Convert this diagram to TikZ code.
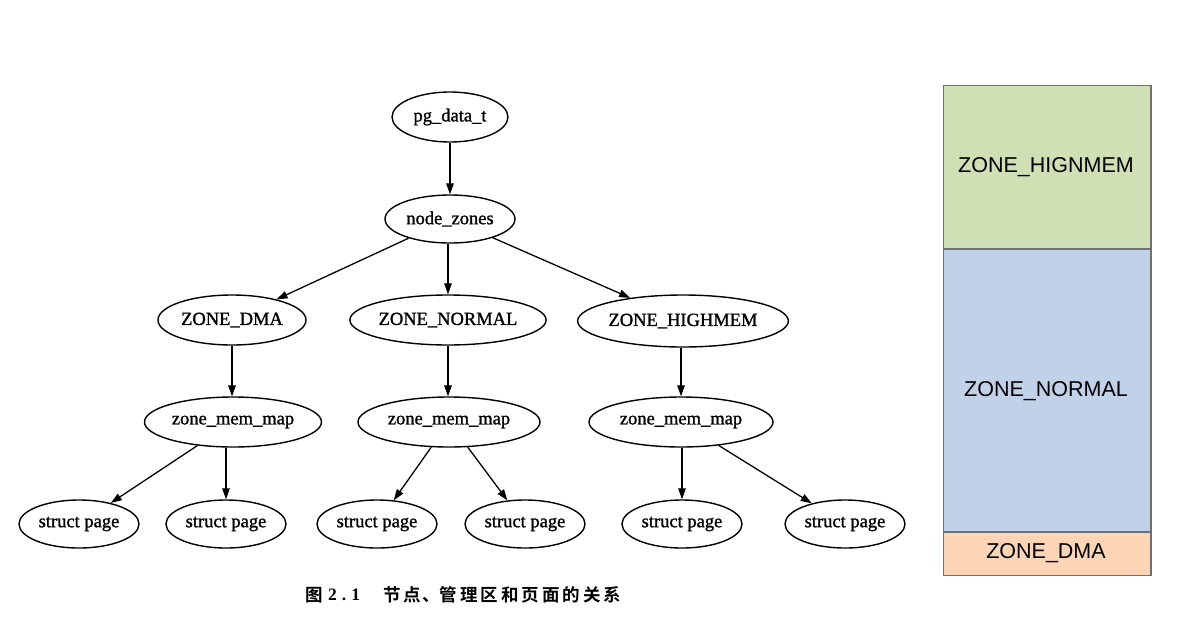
\documentclass[tikz,border=0pt]{standalone}
\usepackage{fontspec}
\setmainfont{Liberation Serif}
\newfontfamily\treefont{Liberation Serif}[FakeBold=1.2]
\newfontfamily\arialfont{Liberation Sans}
\newfontfamily\cjkfont{Noto Sans CJK SC}[BoldFont={* Bold}]
\usetikzlibrary{shapes.geometric,arrows.meta}
\definecolor{hgreen}{RGB}{209,223,181}
\definecolor{nblue}{RGB}{193,209,231}
\definecolor{dorange}{RGB}{251,213,181}
\definecolor{zstroke}{RGB}{112,112,112}
\tikzset{
  tnode/.style={ellipse, draw=black, line width=1.4pt, inner sep=0pt,
    font=\treefont\fontsize{18.5}{21}\selectfont, text=black},
  spage/.style={tnode, minimum width=120pt, minimum height=48pt},
  mmap/.style={tnode, minimum width=182pt, minimum height=50pt},
  arr/.style={-{Triangle[length=11pt,width=7.5pt]}, line width=1.3pt, black},
  zbox/.style={draw=zstroke, line width=1.3pt},
  zlabel/.style={font=\arialfont\fontsize{21.5}{25}\selectfont, text=black},
  capt/.style={font=\cjkfont\bfseries\fontsize{17.5}{20}\selectfont, inner sep=0pt}
}
\begin{document}
\begin{tikzpicture}[x=1pt,y=-1pt]
\useasboundingbox (0,0) rectangle (1187,625);
% tree
\node[tnode, minimum width=116pt, minimum height=50pt] (pg) at (450,117) {pg\_data\_t};
\node[tnode, minimum width=130pt, minimum height=48pt] (nz) at (450,219) {node\_zones};
\node[tnode, minimum width=148pt, minimum height=50pt] (zd) at (232,320) {ZONE\_DMA};
\node[tnode, minimum width=194pt, minimum height=50pt] (zn) at (448,320) {ZONE\_NORMAL};
\node[tnode, minimum width=202pt, minimum height=52pt] (zh) at (683,321) {ZONE\_HIGHMEM};
\node[mmap, minimum width=177pt] (m1) at (233,422) {zone\_mem\_map};
\node[mmap] (m2) at (449,422) {zone\_mem\_map};
\node[mmap, minimum width=184pt] (m3) at (681,422) {zone\_mem\_map};
\node[spage] (s1) at (79,524) {struct page};
\node[spage] (s2) at (226,524) {struct page};
\node[spage] (s3) at (377,524) {struct page};
\node[spage] (s4) at (525,524) {struct page};
\node[spage] (s5) at (682,524) {struct page};
\node[spage] (s6) at (845,524) {struct page};
\draw[arr] (pg) -- (nz);
\draw[arr] (nz) -- (zd);
\draw[arr] (nz.south -| zn) -- (zn);
\draw[arr] (nz) -- (zh);
\draw[arr] (zd) -- (zd |- m1.north);
\draw[arr] (zn) -- (zn |- m2.north);
\draw[arr] (zh.south -| m3) -- (m3);
\draw[arr] (m1) -- (s1);
\draw[arr] (m1.south -| s2) -- (s2);
\draw[arr] (m2) -- (s3);
\draw[arr] (m2) -- (s4);
\draw[arr] (m3.south -| s5) -- (s5);
\draw[arr] (m3) -- (s6);
% caption
\node[capt, anchor=west] (cap1) at (305,595) {图};
\node[font=\bfseries\fontsize{17.5}{20}\selectfont, inner sep=0pt, anchor=west] (cap2) at (328,595) {2\kern5pt.\kern5pt1};
\node[capt, anchor=west] (cap3) at (383,595) {节\kern3pt 点\kern1pt 、\kern0pt 管\kern3pt 理\kern3pt 区\kern3pt 和\kern3pt 页\kern3pt 面\kern3pt 的\kern3pt 关\kern3pt 系};
% zone bar
\path[zbox, fill=hgreen] (943.5,85.5) rectangle (1151,249);
\path[zbox, fill=nblue] (943.5,249) rectangle (1151,532);
\path[zbox, fill=dorange] (943.5,532) rectangle (1151,575.5);
\node[zlabel] (lh) at (1046,167) {ZONE\_HIGNMEM};
\node[zlabel] (ln) at (1046,391) {ZONE\_NORMAL};
\node[zlabel] (ld) at (1046,553) {ZONE\_DMA};
\end{tikzpicture}
\end{document}
